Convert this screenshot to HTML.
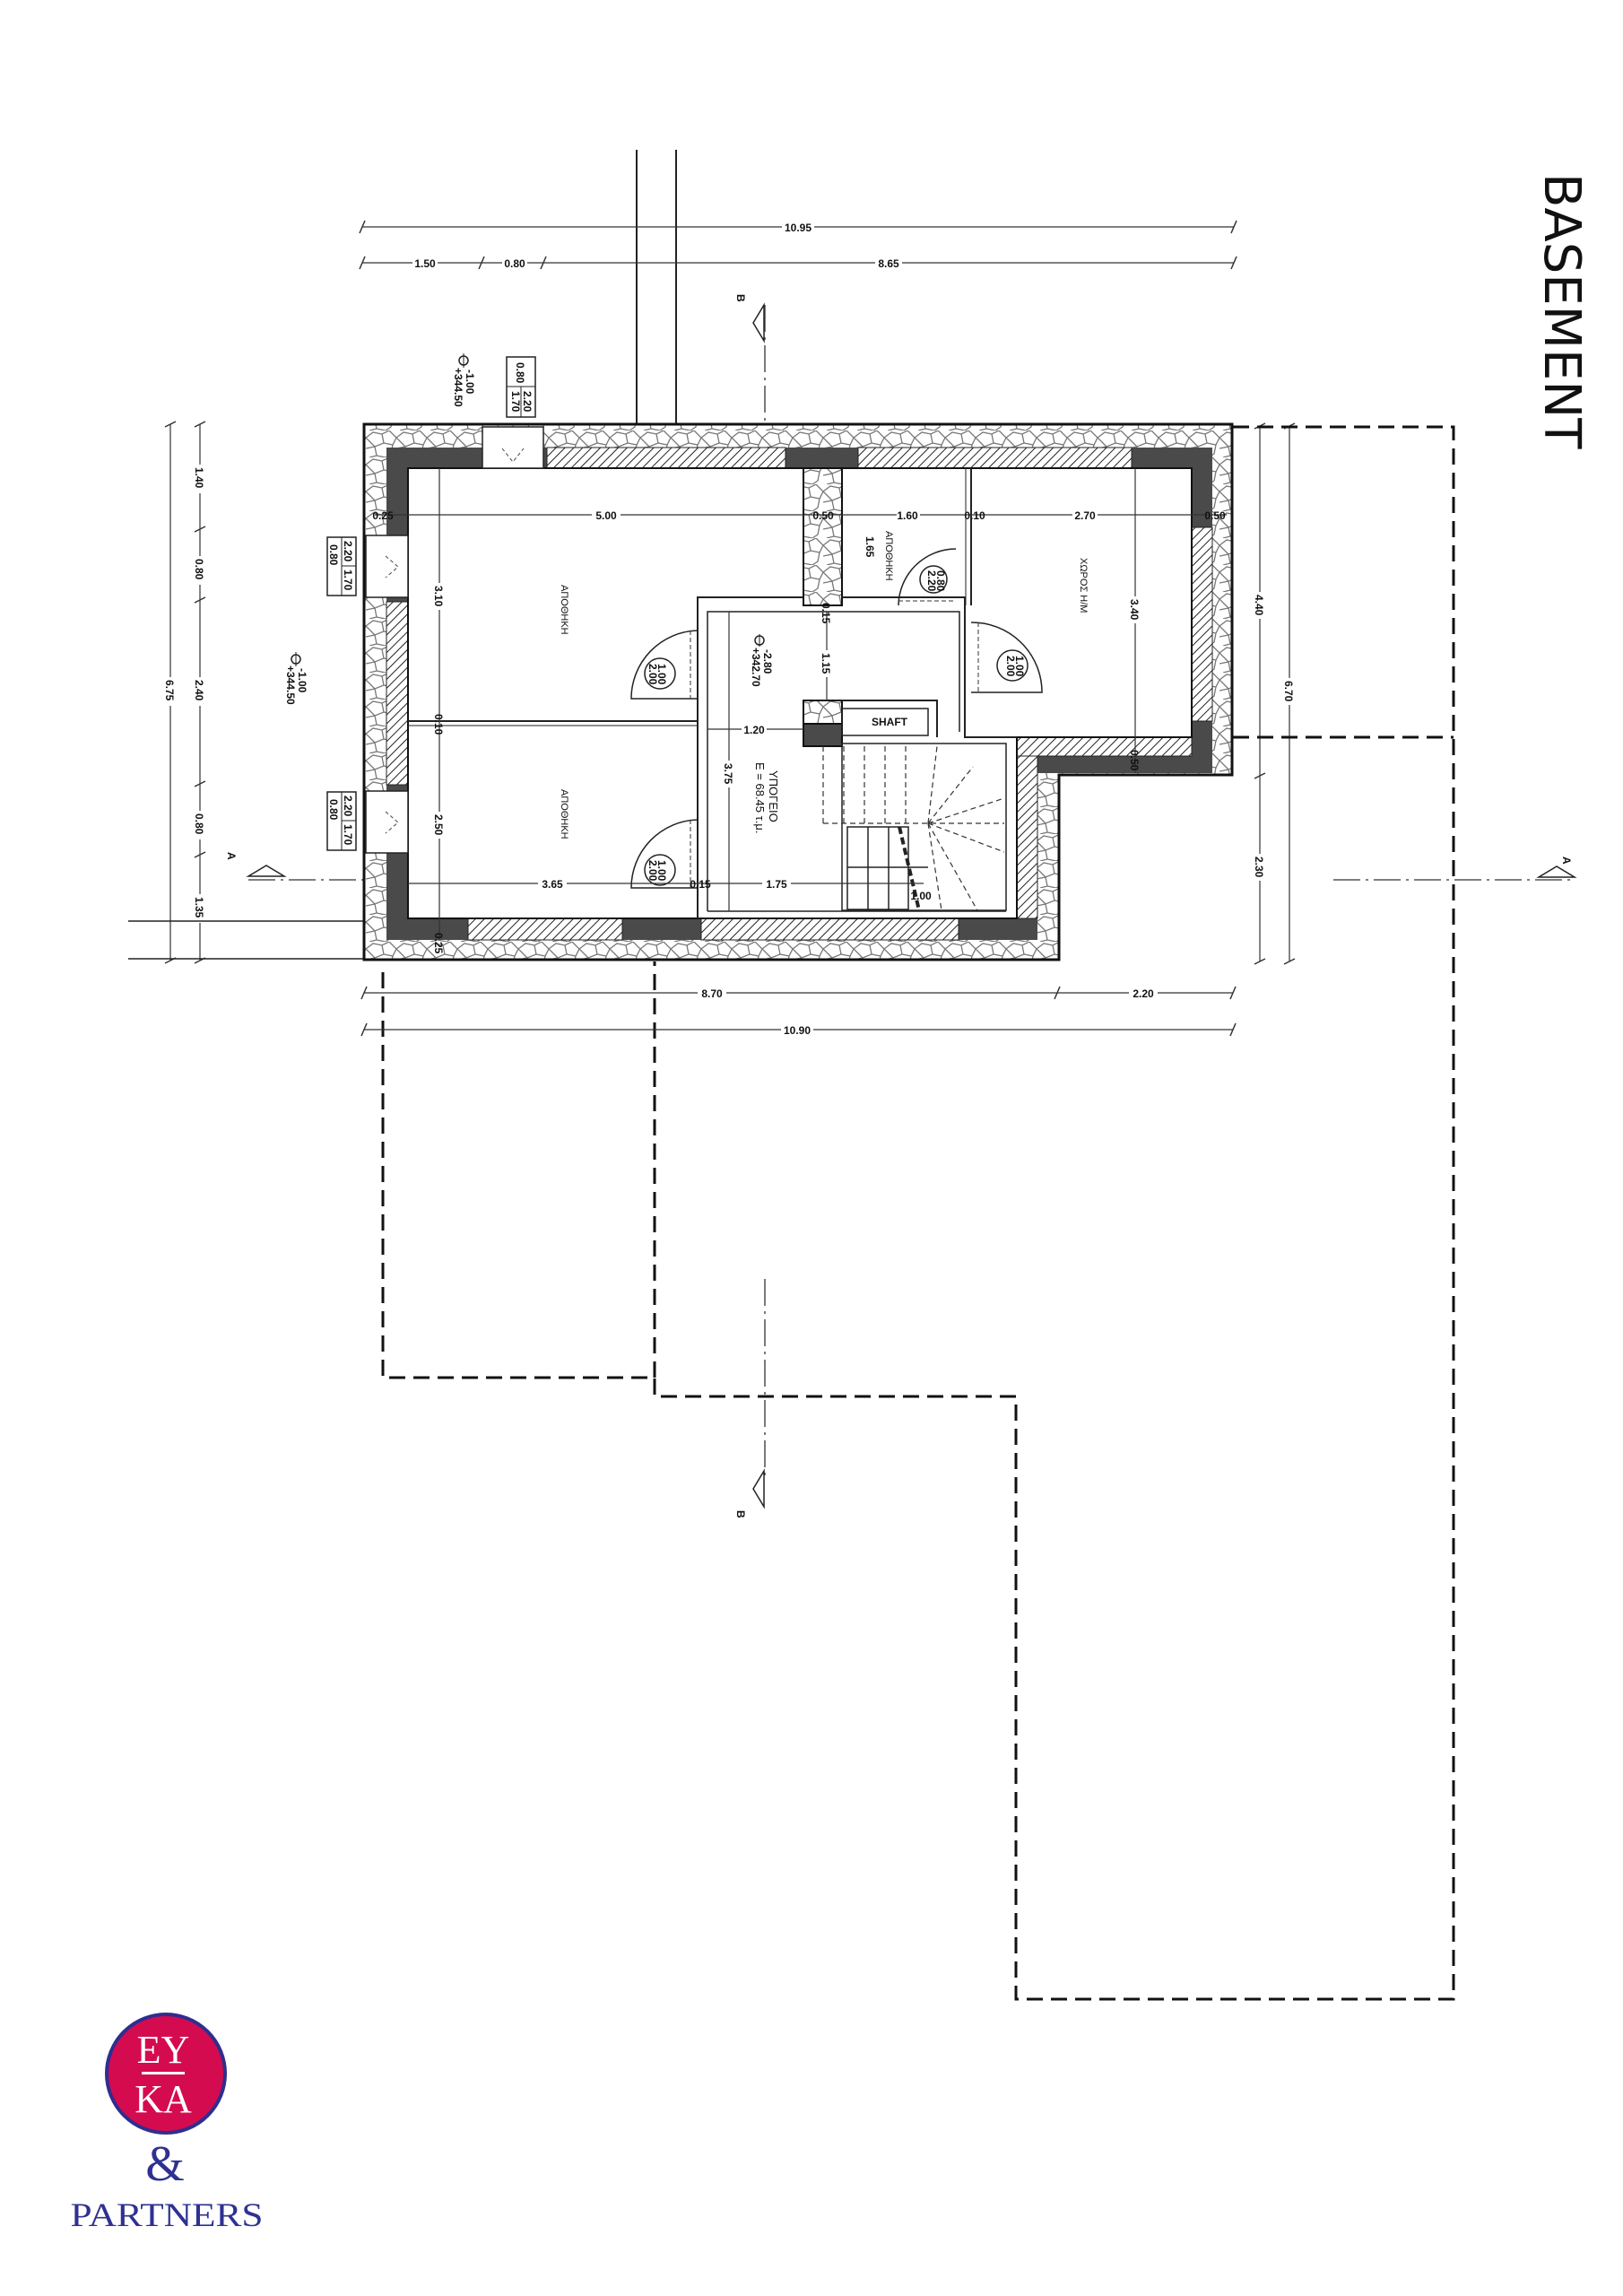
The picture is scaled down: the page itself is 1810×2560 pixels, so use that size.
<!DOCTYPE html>
<html><head><meta charset="utf-8">
<style>
html,body{margin:0;padding:0;background:#fff;}
svg{display:block;}
.t{font-family:"Liberation Sans Narrow","Liberation Sans",sans-serif;font-size:12px;font-weight:bold;fill:#111;}
.d{stroke:#333;stroke-width:1.2;fill:none;}
</style></head><body>
<svg width="1810" height="2560" viewBox="0 0 1810 2560" xmlns="http://www.w3.org/2000/svg">
<defs>
<pattern id="stone" width="34" height="30" patternUnits="userSpaceOnUse">
<rect width="34" height="30" fill="#fff"/>
<path d="M0 8 L8 2 L18 4 L26 0 M26 0 L34 8 M18 4 L20 14 L10 18 L0 8 M20 14 L30 16 L34 8 M10 18 L12 28 L22 30 M30 16 L28 26 L22 30 M12 28 L4 30 M0 20 L10 18" stroke="#777" stroke-width="1.3" fill="none"/>
</pattern>
<pattern id="hatch" width="7" height="7" patternUnits="userSpaceOnUse" patternTransform="rotate(45)">
<rect width="7" height="7" fill="#fff"/>
<line x1="0" y1="0" x2="0" y2="7" stroke="#222" stroke-width="2"/>
</pattern>
</defs>

<!-- BASEMENT -->
<text x="0" y="0" transform="translate(1723,193) rotate(90)" font-family="'DejaVu Sans','Liberation Sans',sans-serif" font-size="56" fill="#111">BASEMENT</text>

<!-- top vertical lines -->
<line x1="710" y1="167" x2="710" y2="476" stroke="#222" stroke-width="2"/>
<line x1="754" y1="167" x2="754" y2="476" stroke="#222" stroke-width="2"/>

<!-- top dims -->
<line class="d" x1="404" y1="253" x2="1376" y2="253"/>
<line class="d" x1="404" y1="293" x2="1376" y2="293"/>
<g stroke="#333" stroke-width="1.5">
<line x1="401" y1="260" x2="407" y2="246"/><line x1="1373" y1="260" x2="1379" y2="246"/>
<line x1="401" y1="300" x2="407" y2="286"/><line x1="534" y1="300" x2="540" y2="286"/><line x1="603" y1="300" x2="609" y2="286"/><line x1="1373" y1="300" x2="1379" y2="286"/>
</g>
<rect x="872" y="245" width="36" height="16" fill="#fff"/><text class="t" x="890" y="258" text-anchor="middle">10.95</text>
<rect x="460" y="285" width="28" height="16" fill="#fff"/><text class="t" x="474" y="298" text-anchor="middle">1.50</text>
<rect x="560" y="285" width="28" height="16" fill="#fff"/><text class="t" x="574" y="298" text-anchor="middle">0.80</text>
<rect x="976" y="285" width="30" height="16" fill="#fff"/><text class="t" x="991" y="298" text-anchor="middle">8.65</text>

<!-- section B top -->
<text class="t" transform="translate(822,328) rotate(90)" font-size="16">B</text>
<path d="M852 340 L840 360 L852 380 Z" fill="none" stroke="#222" stroke-width="1.5"/>
<line x1="853" y1="340" x2="853" y2="602" stroke="#333" stroke-width="1.3" stroke-dasharray="30,6,3,6"/>
<!-- section B bottom -->
<line x1="853" y1="1426" x2="853" y2="1647" stroke="#333" stroke-width="1.3" stroke-dasharray="30,6,3,6"/>
<path d="M852 1640 L840 1660 L852 1680 Z" fill="none" stroke="#222" stroke-width="1.5"/>
<text class="t" transform="translate(822,1684) rotate(90)" font-size="16">B</text>

<!-- level marker top -->
<g transform="translate(517,402)"><circle r="5" fill="none" stroke="#222" stroke-width="1.5"/><line x1="0" y1="-8" x2="0" y2="8" stroke="#222"/></g>
<text class="t" transform="translate(520,412) rotate(90)" font-size="11">-1.00</text>
<text class="t" transform="translate(507,410) rotate(90)" font-size="11">+344.50</text>
<!-- window tag top -->
<g transform="translate(565,398)"><rect width="32" height="67" fill="#fff" stroke="#222" stroke-width="1.5"/><line x1="0" y1="33" x2="32" y2="33" stroke="#222"/><line x1="16" y1="33" x2="16" y2="67" stroke="#222"/>
<text class="t" font-size="10" transform="translate(11,6) rotate(90)">0.80</text><text class="t" font-size="10" transform="translate(19,38) rotate(90)">2.20</text><text class="t" font-size="10" transform="translate(6,38) rotate(90)">1.70</text></g>

<!-- left dims -->
<line class="d" x1="190" y1="473" x2="190" y2="1071"/>
<line class="d" x1="223" y1="473" x2="223" y2="1071"/>
<g stroke="#333" stroke-width="1.5">
<line x1="184" y1="476" x2="196" y2="470"/><line x1="184" y1="1074" x2="196" y2="1068"/>
<line x1="217" y1="476" x2="229" y2="470"/><line x1="217" y1="593" x2="229" y2="587"/><line x1="217" y1="672" x2="229" y2="666"/><line x1="217" y1="877" x2="229" y2="871"/><line x1="217" y1="956" x2="229" y2="950"/><line x1="217" y1="1074" x2="229" y2="1068"/>
</g>
<g fill="#fff"><rect x="183" y="755" width="14" height="32"/><rect x="216" y="518" width="14" height="32"/><rect x="216" y="620" width="14" height="32"/><rect x="216" y="755" width="14" height="32"/><rect x="216" y="904" width="14" height="32"/><rect x="216" y="997" width="14" height="32"/></g>
<text class="t" transform="translate(185,758) rotate(90)">6.75</text>
<text class="t" transform="translate(218,521) rotate(90)">1.40</text>
<text class="t" transform="translate(218,623) rotate(90)">0.80</text>
<text class="t" transform="translate(218,758) rotate(90)">2.40</text>
<text class="t" transform="translate(218,907) rotate(90)">0.80</text>
<text class="t" transform="translate(218,1000) rotate(90)">1.35</text>
<line x1="143" y1="1027" x2="406" y2="1027" stroke="#222" stroke-width="1.5"/>
<line x1="143" y1="1069" x2="406" y2="1069" stroke="#222" stroke-width="1.5"/>
<!-- left window tags -->
<g transform="translate(365,599)"><rect width="32" height="65" fill="#fff" stroke="#222" stroke-width="1.5"/><line x1="16" y1="0" x2="16" y2="65" stroke="#222"/><line x1="16" y1="32" x2="32" y2="32" stroke="#222"/>
<text class="t" font-size="10" transform="translate(3,8) rotate(90)">0.80</text><text class="t" font-size="10" transform="translate(19,4) rotate(90)">2.20</text><text class="t" font-size="10" transform="translate(19,36) rotate(90)">1.70</text></g>
<g transform="translate(365,883)"><rect width="32" height="65" fill="#fff" stroke="#222" stroke-width="1.5"/><line x1="16" y1="0" x2="16" y2="65" stroke="#222"/><line x1="16" y1="32" x2="32" y2="32" stroke="#222"/>
<text class="t" font-size="10" transform="translate(3,8) rotate(90)">0.80</text><text class="t" font-size="10" transform="translate(19,4) rotate(90)">2.20</text><text class="t" font-size="10" transform="translate(19,36) rotate(90)">1.70</text></g>
<!-- level marker left -->
<g transform="translate(330,735)"><circle r="5" fill="none" stroke="#222" stroke-width="1.5"/><line x1="0" y1="-8" x2="0" y2="8" stroke="#222"/></g>
<text class="t" transform="translate(333,745) rotate(90)" font-size="11">-1.00</text>
<text class="t" transform="translate(320,742) rotate(90)" font-size="11">+344.50</text>
<!-- section A left -->
<text class="t" transform="translate(254,950) rotate(90)" font-size="16">A</text>
<path d="M277 977 L297 965 L317 977 Z" fill="none" stroke="#222" stroke-width="1.5"/>
<line x1="277" y1="981" x2="560" y2="981" stroke="#333" stroke-width="1.3" stroke-dasharray="30,6,3,6"/>
<!-- section A right -->
<line x1="1487" y1="981" x2="1755" y2="981" stroke="#333" stroke-width="1.3" stroke-dasharray="30,6,3,6"/>
<path d="M1716 978 L1736 966 L1756 978 Z" fill="none" stroke="#222" stroke-width="1.5"/>
<text class="t" transform="translate(1743,955) rotate(90)" font-size="16">A</text>

<!-- right dims -->
<line class="d" x1="1405" y1="475" x2="1405" y2="1072"/>
<line class="d" x1="1438" y1="475" x2="1438" y2="1072"/>
<g stroke="#333" stroke-width="1.5">
<line x1="1399" y1="478" x2="1411" y2="472"/><line x1="1399" y1="868" x2="1411" y2="862"/><line x1="1399" y1="1075" x2="1411" y2="1069"/>
<line x1="1432" y1="478" x2="1444" y2="472"/><line x1="1432" y1="1075" x2="1444" y2="1069"/>
</g>
<g fill="#fff"><rect x="1398" y="660" width="14" height="30"/><rect x="1431" y="756" width="14" height="30"/><rect x="1398" y="952" width="14" height="30"/></g>
<text class="t" transform="translate(1400,663) rotate(90)">4.40</text>
<text class="t" transform="translate(1433,759) rotate(90)">6.70</text>
<text class="t" transform="translate(1400,955) rotate(90)">2.30</text>

<!-- dashed outline -->
<g stroke="#111" stroke-width="3" fill="none" stroke-dasharray="18,9">
<polyline points="1375,476 1621,476 1621,2229 1133,2229 1133,1557 730,1557 730,1536 427,1536 427,1076"/>
<line x1="1375" y1="822" x2="1621" y2="822"/>
<line x1="730" y1="1536" x2="730" y2="1072"/>
</g>

<!-- bottom dims -->
<line class="d" x1="406" y1="1107" x2="1375" y2="1107"/>
<line class="d" x1="406" y1="1148" x2="1375" y2="1148"/>
<g stroke="#333" stroke-width="1.5">
<line x1="403" y1="1114" x2="409" y2="1100"/><line x1="1176" y1="1114" x2="1182" y2="1100"/><line x1="1372" y1="1114" x2="1378" y2="1100"/>
<line x1="403" y1="1155" x2="409" y2="1141"/><line x1="1372" y1="1155" x2="1378" y2="1141"/>
</g>
<rect x="778" y="1099" width="32" height="16" fill="#fff"/><text class="t" x="794" y="1112" text-anchor="middle">8.70</text>
<rect x="1259" y="1099" width="32" height="16" fill="#fff"/><text class="t" x="1275" y="1112" text-anchor="middle">2.20</text>
<rect x="871" y="1140" width="36" height="16" fill="#fff"/><text class="t" x="889" y="1153" text-anchor="middle">10.90</text>

<!-- BUILDING -->
<path d="M406 473 L1374 473 L1374 864 L1181 864 L1181 1070 L406 1070 Z" fill="url(#stone)" stroke="#111" stroke-width="3"/>
<path d="M431 499 L1352 499 L1352 862 L1157 862 L1157 1048 L431 1048 Z" fill="#4a4a4a"/>
<!-- hatched segments -->
<g fill="url(#hatch)" stroke="#222" stroke-width="1">
<rect x="610" y="499" width="266" height="23"/>
<rect x="957" y="499" width="305" height="23"/>
<rect x="431" y="671" width="24" height="204"/>
<rect x="1329" y="588" width="23" height="216"/>
<rect x="522" y="1024" width="172" height="24"/>
<rect x="782" y="1024" width="287" height="24"/>
<rect x="1134" y="822" width="195" height="21"/>
<rect x="1134" y="843" width="23" height="181"/>
</g>
<!-- interior -->
<path d="M455 522 L1329 522 L1329 822 L1134 822 L1134 1024 L455 1024 Z" fill="#fff" stroke="#111" stroke-width="2"/>
<!-- windows -->
<g fill="#fff" stroke="#222" stroke-width="1.5">
<rect x="538" y="476" width="68" height="46"/>
<rect x="408" y="597" width="47" height="69"/>
<rect x="408" y="882" width="47" height="69"/>
</g>
<g stroke="#444" stroke-width="1" stroke-dasharray="4,3" fill="none">
<path d="M560 500 L572 515 L584 500"/><path d="M430 620 L444 632 L430 644"/><path d="M430 905 L444 917 L430 929"/>
</g>
<!-- partitions -->
<rect x="896" y="522" width="43" height="153" fill="url(#stone)" stroke="#111" stroke-width="2"/>
<line x1="1083" y1="522" x2="1083" y2="675" stroke="#222" stroke-width="2"/>
<line x1="1077" y1="522" x2="1077" y2="675" stroke="#222" stroke-width="1"/>
<path d="M778 1024 L778 666 L896 666 M939 666 L1076 666 L1076 822 L1134 822" fill="none" stroke="#222" stroke-width="2"/>
<path d="M789 1016 L789 682 L1070 682 L1070 816" fill="none" stroke="#222" stroke-width="1.5"/>
<line x1="455" y1="804" x2="778" y2="804" stroke="#222" stroke-width="2"/>
<line x1="455" y1="809" x2="778" y2="809" stroke="#222" stroke-width="1"/>
<line x1="789" y1="1016" x2="1122" y2="1016" stroke="#222" stroke-width="1.5"/>
<!-- shaft -->
<rect x="896" y="781" width="43" height="26" fill="url(#stone)" stroke="#111" stroke-width="2"/>
<rect x="896" y="807" width="43" height="25" fill="#4a4a4a" stroke="#111" stroke-width="2"/>
<path d="M939 781 L1045 781 L1045 822" fill="none" stroke="#222" stroke-width="2"/>
<rect x="939" y="790" width="96" height="30" fill="none" stroke="#222" stroke-width="1.5"/>
<text class="t" x="972" y="809" font-size="10">SHAFT</text>
<!-- stair -->
<rect x="939" y="829" width="183" height="186" fill="none" stroke="#222" stroke-width="1.5"/>
<g stroke="#333" stroke-width="1.2" stroke-dasharray="6,4" fill="none">
<line x1="918" y1="832" x2="918" y2="918"/><line x1="941" y1="832" x2="941" y2="918"/><line x1="964" y1="832" x2="964" y2="918"/><line x1="987" y1="832" x2="987" y2="918"/><line x1="1010" y1="832" x2="1010" y2="918"/>
<line x1="918" y1="918" x2="1120" y2="918"/>
<line x1="1035" y1="918" x2="1045" y2="832"/><line x1="1035" y1="918" x2="1085" y2="855"/><line x1="1035" y1="918" x2="1120" y2="890"/><line x1="1035" y1="918" x2="1120" y2="950"/><line x1="1035" y1="918" x2="1090" y2="1015"/><line x1="1035" y1="918" x2="1050" y2="1015"/>
</g>
<g stroke="#222" stroke-width="1.5" fill="none">
<rect x="945" y="922" width="68" height="92"/><line x1="968" y1="922" x2="968" y2="1014"/><line x1="991" y1="922" x2="991" y2="1014"/>
<line x1="945" y1="967" x2="1035" y2="967"/>
<line x1="1003" y1="922" x2="1025" y2="1015" stroke-width="4" stroke-dasharray="8,4"/>
</g>
<!-- doors -->
<g fill="none" stroke="#222" stroke-width="1.5">
<path d="M778 703 A76 76 0 0 0 704 779 L778 779"/><circle cx="736" cy="751" r="17"/>
<path d="M778 914 A76 76 0 0 0 704 990 L778 990"/><circle cx="736" cy="970" r="17"/>
<path d="M1083 694 A78 78 0 0 1 1162 772 L1083 772"/><circle cx="1129" cy="742" r="17"/>
<path d="M1066 612 A64 64 0 0 0 1002 675"/><circle cx="1041" cy="646" r="15"/>
</g>
<g stroke="#333" stroke-width="1" stroke-dasharray="5,3"><line x1="770" y1="703" x2="770" y2="779"/><line x1="770" y1="914" x2="770" y2="990"/><line x1="1091" y1="694" x2="1091" y2="772"/><line x1="1002" y1="670" x2="1066" y2="670"/></g>
<g class="t" font-size="9">
<text transform="translate(734,740) rotate(90)" class="t" font-size="9">1.00</text><text transform="translate(724,740) rotate(90)" class="t" font-size="9">2.00</text>
<text transform="translate(734,959) rotate(90)" class="t" font-size="9">1.00</text><text transform="translate(724,959) rotate(90)" class="t" font-size="9">2.00</text>
<text transform="translate(1133,731) rotate(90)" class="t" font-size="9">1.00</text><text transform="translate(1123,731) rotate(90)" class="t" font-size="9">2.00</text>
<text transform="translate(1045,636) rotate(90)" class="t" font-size="9">0.80</text><text transform="translate(1035,636) rotate(90)" class="t" font-size="9">2.20</text>
</g>
<!-- interior dims -->
<line class="d" x1="418" y1="574" x2="1368" y2="574"/>
<line class="d" x1="490" y1="522" x2="490" y2="1048"/>
<line class="d" x1="455" y1="985" x2="1030" y2="985"/>
<line class="d" x1="922" y1="682" x2="922" y2="781"/>
<line class="d" x1="1266" y1="522" x2="1266" y2="862"/>
<line class="d" x1="813" y1="682" x2="813" y2="1016"/>
<line class="d" x1="789" y1="813" x2="896" y2="813"/>
<g fill="#fff"><rect x="660" y="567" width="32" height="14"/><rect x="1000" y="567" width="26" height="14"/><rect x="1196" y="567" width="28" height="14"/><rect x="483" y="650" width="14" height="30"/><rect x="483" y="905" width="14" height="30"/><rect x="600" y="978" width="32" height="14"/><rect x="850" y="978" width="32" height="14"/><rect x="915" y="725" width="14" height="30"/><rect x="1259" y="665" width="14" height="30"/><rect x="806" y="848" width="14" height="30"/><rect x="827" y="806" width="28" height="14"/></g>
<text class="t" x="676" y="579" text-anchor="middle">5.00</text>
<text class="t" x="427" y="579" text-anchor="middle" font-size="10">0.25</text>
<text class="t" x="918" y="579" text-anchor="middle" font-size="10">0.50</text>
<text class="t" x="1012" y="579" text-anchor="middle">1.60</text>
<text class="t" x="1087" y="579" text-anchor="middle" font-size="10">0.10</text>
<text class="t" x="1210" y="579" text-anchor="middle">2.70</text>
<text class="t" x="1355" y="579" text-anchor="middle" font-size="10">0.50</text>
<text class="t" transform="translate(485,653) rotate(90)">3.10</text>
<text class="t" transform="translate(485,796) rotate(90)" font-size="9">0.10</text>
<text class="t" transform="translate(485,908) rotate(90)">2.50</text>
<text class="t" transform="translate(485,1040) rotate(90)" font-size="9">0.25</text>
<text class="t" x="616" y="990" text-anchor="middle">3.65</text>
<text class="t" x="781" y="990" text-anchor="middle" font-size="9">0.15</text>
<text class="t" x="866" y="990" text-anchor="middle">1.75</text>
<text class="t" x="1027" y="1003" text-anchor="middle" font-size="11">1.00</text>
<text class="t" transform="translate(917,728) rotate(90)">1.15</text>
<text class="t" transform="translate(917,672) rotate(90)" font-size="9">0.15</text>
<text class="t" transform="translate(1261,668) rotate(90)">3.40</text>
<text class="t" transform="translate(1261,836) rotate(90)" font-size="9">0.50</text>
<text class="t" transform="translate(808,851) rotate(90)">3.75</text>
<text class="t" x="841" y="818" text-anchor="middle">1.20</text>
<text class="t" transform="translate(966,598) rotate(90)" font-size="10">1.65</text>
<!-- room labels -->
<g font-family="'Liberation Sans',sans-serif" font-size="11" fill="#111">
<text transform="translate(626,652) rotate(90)">ΑΠΟΘΗΚΗ</text>
<text transform="translate(626,880) rotate(90)">ΑΠΟΘΗΚΗ</text>
<text transform="translate(988,592) rotate(90)">ΑΠΟΘΗΚΗ</text>
<text transform="translate(1205,622) rotate(90)">ΧΩΡΟΣ Η/Μ</text>
<text transform="translate(858,859) rotate(90)" font-size="13">ΥΠΟΓΕΙΟ</text>
<text transform="translate(843,850) rotate(90)" font-size="13">Ε = 68.45 τ.μ.</text>
</g>
<g transform="translate(847,714)"><circle r="5" fill="none" stroke="#222" stroke-width="1.5"/><line x1="0" y1="-7" x2="0" y2="7" stroke="#222"/></g>
<text class="t" transform="translate(852,724) rotate(90)" font-size="11">-2.80</text>
<text class="t" transform="translate(839,722) rotate(90)" font-size="11">+342.70</text>

<!-- LOGO -->
<circle cx="185" cy="2312" r="66" fill="#d50b50" stroke="#2e2e8f" stroke-width="4"/>
<text x="182" y="2300" text-anchor="middle" font-family="'Liberation Serif',serif" font-size="44" fill="#fff">EY</text>
<rect x="158" y="2310" width="48" height="3" fill="#fff"/>
<text x="182" y="2355" text-anchor="middle" font-family="'Liberation Serif',serif" font-size="44" fill="#fff">KA</text>
<text x="184" y="2431" text-anchor="middle" font-family="'Liberation Serif',serif" font-size="56" fill="#2e3192">&amp;</text>
<text x="186" y="2482" text-anchor="middle" font-family="'Liberation Serif',serif" font-size="37" fill="#2e3192" textLength="215" lengthAdjust="spacingAndGlyphs">PARTNERS</text>
</svg>
</body></html>
